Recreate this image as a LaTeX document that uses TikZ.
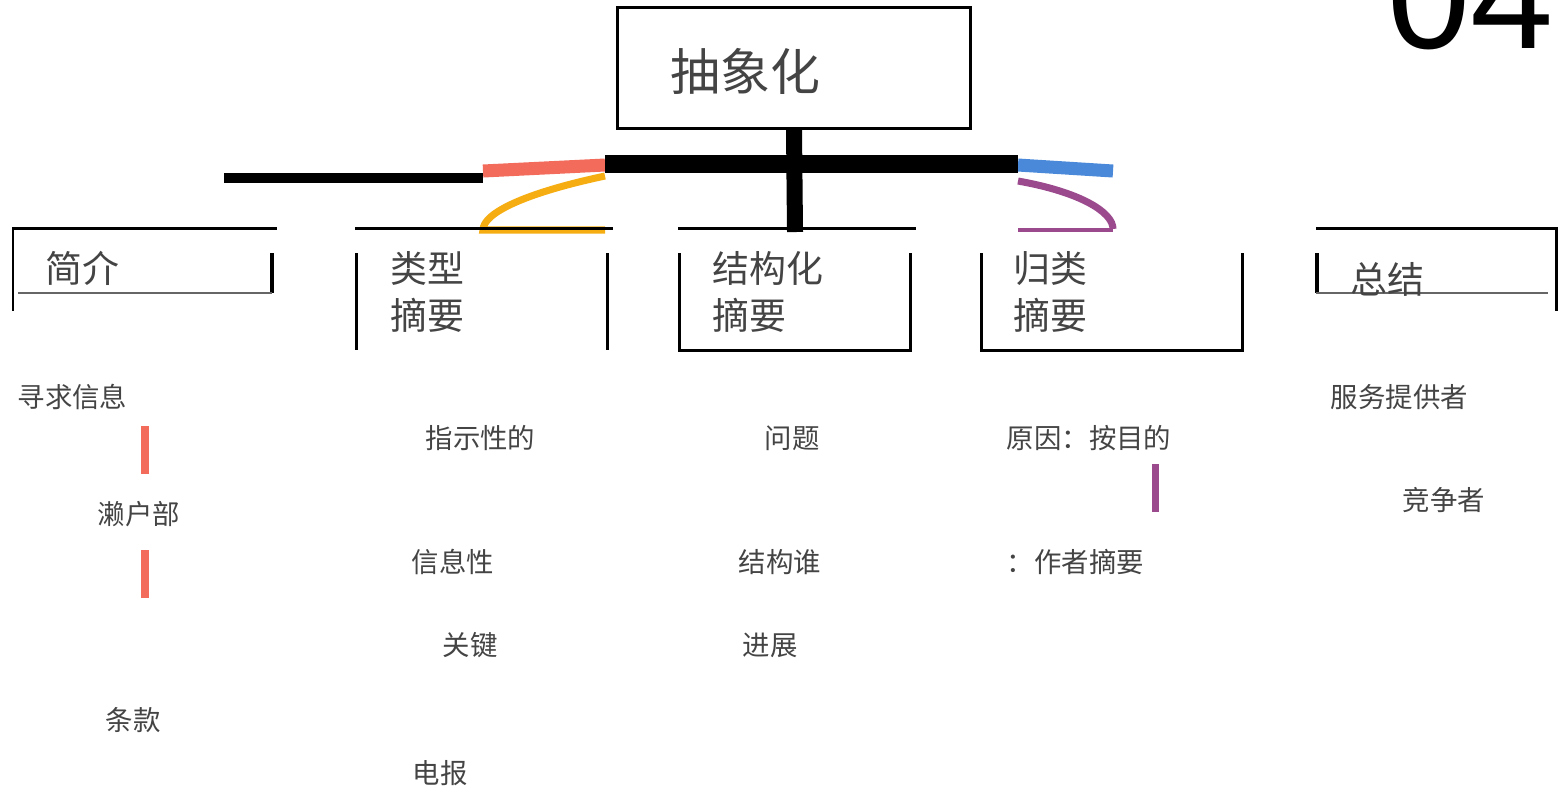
\documentclass[tikz,border=0pt]{standalone}
\usepackage{fontspec}
\newfontfamily\cjk{Noto Sans CJK SC}
\newfontfamily\numfont{Liberation Sans}
\usetikzlibrary{positioning}
\definecolor{salmon}{HTML}{F36B5A}
\definecolor{amber}{HTML}{F5AD12}
\definecolor{skyblue}{HTML}{4A88D9}
\definecolor{plum}{HTML}{9B4A8D}
\definecolor{ink}{HTML}{444444}

\begin{document}
\begin{tikzpicture}[x=0.01cm,y=-0.01cm,
  lbl/.style={anchor=west,inner sep=0pt,text=ink,font=\cjk\fontsize{7.8pt}{9pt}\selectfont},
  head/.style={anchor=west,inner sep=0pt,text=ink,align=left,font=\cjk\fontsize{10.5pt}{13.4pt}\selectfont},
  rim/.style={line width=0.85pt},
  thinrim/.style={line width=0.45pt,black!60},
  tick/.style={line width=2pt}]
\useasboundingbox (0,0) rectangle (1561,790);

% title box and hub
\node[draw,rim,minimum width=3.52cm,minimum height=1.2cm] (absbox) at (794,68) {};
\node[anchor=west,inner sep=0pt,text=ink,font=\cjk\fontsize{14.2pt}{16pt}\selectfont] (abstitle) at (670,71) {抽象化};
\node[anchor=base west,inner sep=0pt,font=\numfont\fontsize{42.5pt}{42.5pt}\selectfont] (pageno) at (1387,48) {04};
\coordinate (hubfoot) at (795,232);
\coordinate (barL) at (605,164);
\coordinate (barR) at (1018,164);
\coordinate (armL) at (224,178);
\coordinate (armM) at (483,178);

% branch ribbons
\draw[amber,line width=2pt] (605,176) .. controls (525,193) and (483,213) .. (483,230) -- (605,230);
\draw[plum,line width=2pt] (1018,181) .. controls (1080,192) and (1113,212) .. (1113,229);
\draw[plum,line width=1pt] (1018,230) -- (1113,230);
\draw[salmon,line width=3.7pt] (483,171) -- (605,165);
\draw[skyblue,line width=3.7pt] (1018,165) -- (1113,171);
\draw[line width=2.85pt] (armL) -- (armM);
\draw[line width=5.1pt] (barL) -- (barR);
\draw[line width=4.55pt] (absbox.south) -- (hubfoot);

% header brackets
\draw[rim] (12,228) -- (277,228);
\draw[rim] (13,228) -- (13,311);
\draw[line width=1.1pt] (272,253) -- (272,293);
\draw[thinrim] (18,293) -- (272,293);
\node[head] (intro) at (45,268) {简介};

\draw[rim] (355,228) -- (613,228);
\draw[rim] (356,253) -- (356,350);
\draw[rim] (607,253) -- (607,350);
\node[head] (typed) at (390,292) {类型\\摘要};

\draw[rim] (678,228) -- (916,228);
\draw[rim] (679,253) -- (679,350) -- (910,350) -- (910,253);
\node[head] (struct) at (712,292) {结构化\\摘要};

\draw[rim] (981,253) -- (981,350) -- (1242,350) -- (1242,253);
\node[head] (classed) at (1013,292) {归类\\摘要};

\draw[rim] (1316,228) -- (1556,228) -- (1556,311);
\draw[line width=1.1pt] (1317,253) -- (1317,293);
\draw[thinrim] (1316,293) -- (1548,293);
\node[head] (summary) at (1350,279) {总结};

% leaf labels
\node[lbl] (seek) at (17,397) {寻求信息};
\node[lbl] (seto) at (97,514) {濑户部};
\node[lbl] (clause) at (105,720) {条款};
\node[lbl] (indic) at (425,438) {指示性的};
\node[lbl] (inform) at (411,562) {信息性};
\node[lbl] (keyw) at (442,645) {关键};
\node[lbl] (telegram) at (412,773) {电报};
\node[lbl] (issue) at (764,438) {问题};
\node[lbl] (whostr) at (738,562) {结构谁};
\node[lbl] (progress) at (742,645) {进展};
\node[lbl] (cause) at (1006,438) {原因：按目的};
\node[lbl] (author) at (1006,562) {：作者摘要};
\node[lbl] (provider) at (1330,397) {服务提供者};
\node[lbl] (rival) at (1402,500) {竞争者};

% leaf ticks
\coordinate (t1a) at (145,426);
\coordinate (t1b) at (145,474);
\coordinate (t2a) at (145,550);
\coordinate (t2b) at (145,598);
\coordinate (t3a) at (1155,464);
\coordinate (t3b) at (1155,512);
\draw[tick,salmon] (t1a) -- (t1b);
\draw[tick,salmon] (t2a) -- (t2b);
\draw[tick,plum] (t3a) -- (t3b);
\end{tikzpicture}
\end{document}
